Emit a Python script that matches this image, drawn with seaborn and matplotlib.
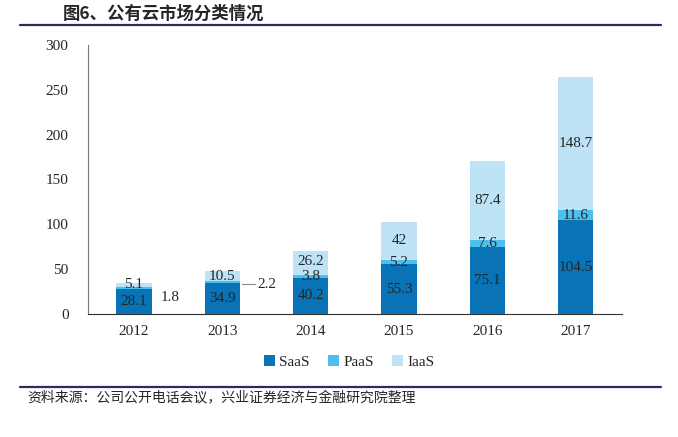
import matplotlib
matplotlib.use('Agg')
import matplotlib.pyplot as plt
import seaborn as sns
import numpy as np
from matplotlib.patches import Patch
from matplotlib.lines import Line2D

# Dades del gràfic
anys = ['2012', '2013', '2014', '2015', '2016', '2017']
saas = [28.1, 34.9, 40.2, 55.3, 75.1, 104.5]
paas = [1.8, 2.2, 3.8, 5.2, 7.6, 11.6]
iaas = [5.1, 10.5, 26.2, 42, 87.4, 148.7]
series = ['SaaS', 'PaaS', 'IaaS']
colors = ['#0873B6', '#4DBFEC', '#BEE3F7']

sns.set_style('white')
plt.rcParams['font.family'] = ['Liberation Serif', 'Noto Sans CJK SC']
cjk = ['Noto Sans CJK SC', 'DejaVu Sans']

fig = plt.figure(figsize=(6.78, 4.37), dpi=100)
ax = fig.add_axes([0.1298, 0.2815, 0.7872, 0.6155])

bottoms = np.zeros(len(anys))
for vals, col in zip([saas, paas, iaas], colors):
    sns.barplot(x=anys, y=vals, bottom=bottoms, color=col, width=0.4,
                ax=ax, saturation=1, linewidth=0)
    bottoms = bottoms + np.array(vals)

fs = 11
# Etiquetes de valor
for i in range(len(anys)):
    ax.text(i, saas[i] / 2, f'{saas[i]:g}', ha='center', va='center', fontsize=fs)
    y_iaas = saas[i] + paas[i] + iaas[i] / 2
    if i == 2:
        y_iaas += 1.5  # separa una mica del 3.8
    ax.text(i, y_iaas, f'{iaas[i]:g}', ha='center', va='center', fontsize=fs)
    if i >= 2:
        ax.text(i, saas[i] + paas[i] / 2, f'{paas[i]:g}',
                ha='center', va='center', fontsize=fs)

# PaaS petits, fora de la barra
ax.text(0.41, 18, f'{paas[0]:g}', ha='center', va='center', fontsize=fs)
ax.plot([1.22, 1.37], [33, 33], color='#888888', lw=0.8)
ax.text(1.5, 33, f'{paas[1]:g}', ha='center', va='center', fontsize=fs)

ax.set_ylim(0, 300)
ax.set_xlim(-0.52, 5.52)
ax.set_yticks(range(0, 301, 50))
ax.tick_params(axis='both', labelsize=11, length=0)
ax.tick_params(axis='x', pad=8)
ax.tick_params(axis='y', pad=14)
for s in ['top', 'right']:
    ax.spines[s].set_visible(False)
ax.spines['left'].set_color('#777777')
ax.spines['bottom'].set_color('#333333')
ax.set_xlabel('')
ax.set_ylabel('')

handles = [Patch(facecolor=c, edgecolor='none') for c in colors]
fig.legend(handles, series, loc='center', bbox_to_anchor=(0.515, 0.172), ncol=3,
           frameon=False, fontsize=11, handlelength=0.7, handleheight=0.7,
           handletextpad=0.3, columnspacing=1.2)

# Títol i font
fig.text(0.092, 0.968, '图6、公有云市场分类情况', family=cjk, fontsize=12.5,
         fontweight='bold', va='center', ha='left')
fig.add_artist(Line2D([0.03, 0.975], [0.942, 0.942], color='#2E2A5E', lw=1.6))
fig.add_artist(Line2D([0.03, 0.975], [0.114, 0.114], color='#2E2A5E', lw=1.6))
fig.text(0.04, 0.088, '资料来源：公司公开电话会议，兴业证券经济与金融研究院整理',
         family=cjk, fontsize=10, va='center', ha='left')

fig.savefig('out.png', dpi=100)
